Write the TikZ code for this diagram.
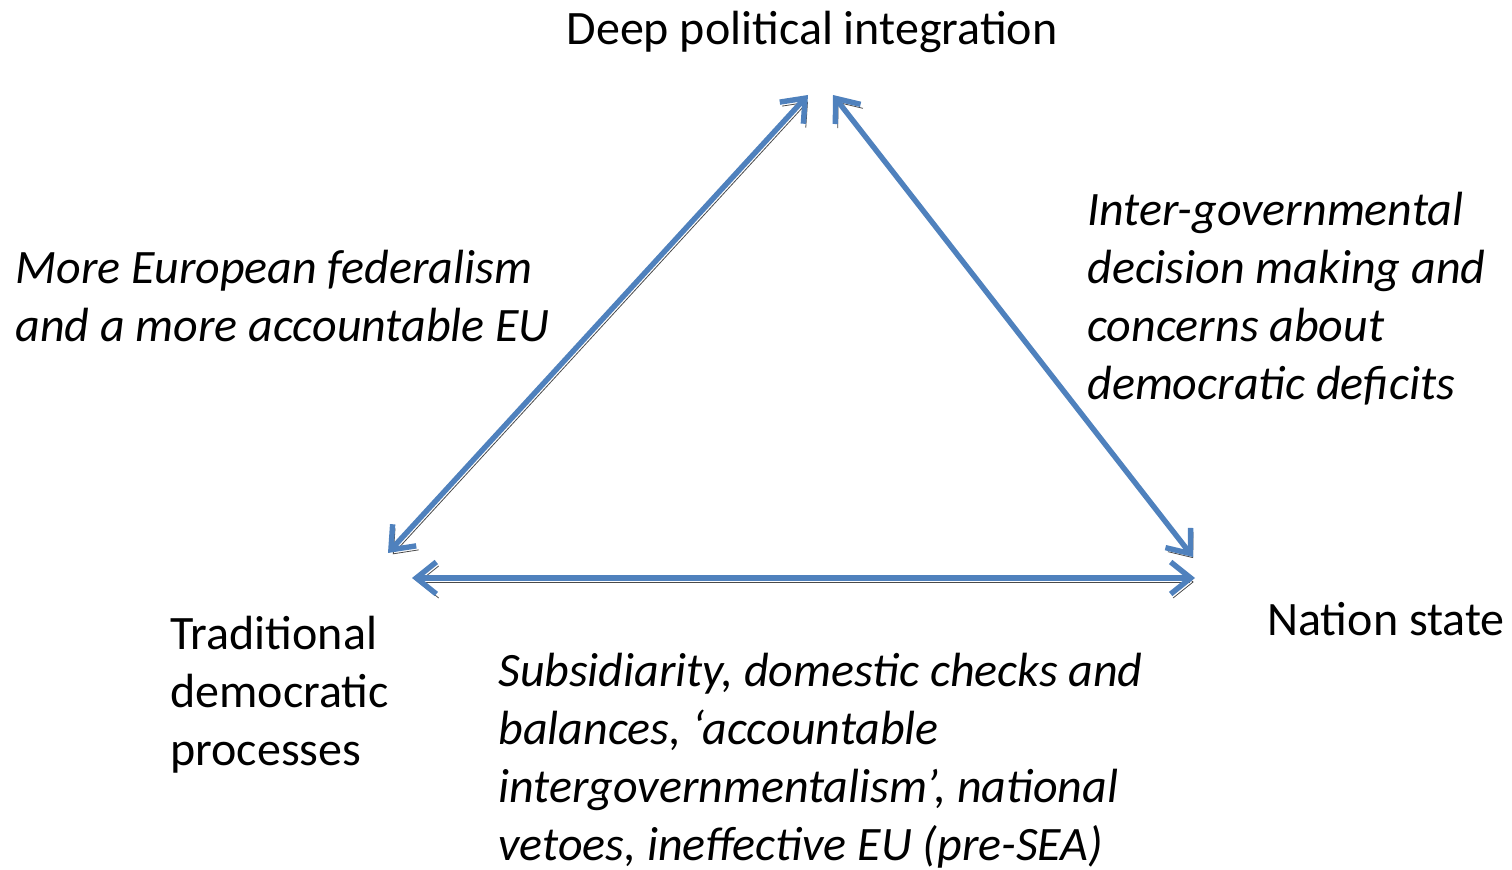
\documentclass[tikz,border=0pt]{standalone}
\usepackage{fontspec}
\setmainfont{Carlito}
\usetikzlibrary{arrows.meta, positioning, calc}
\definecolor{arrowblue}{HTML}{4F81BD}
\definecolor{shadowgray}{HTML}{4A4A4A}

\begin{document}
\begin{tikzpicture}[x=0.5pt, y=-0.5pt,
    lbl/.style={inner sep=0pt, align=left, font=\fontsize{24}{29}\selectfont},
    ilbl/.style={lbl, font=\fontsize{24}{29}\selectfont\itshape},
    link/.style={line width=2.7pt, arrowblue, {Straight Barb[length=10pt, width=16pt]}-{Straight Barb[length=10pt, width=16pt]},
      preaction={draw=shadowgray, transform canvas={shift={(1.2pt,-2pt)}}}}]
  \useasboundingbox (0,0) rectangle (1512,870);

  % Triangle corners
  \coordinate (topL) at (808,95);
  \coordinate (topR) at (833,95);
  \coordinate (leftT) at (388,553);
  \coordinate (leftB) at (412,578);
  \coordinate (rightT) at (1193,557);
  \coordinate (rightB) at (1195,578);

  % Corner labels (base = last line)
  \node[lbl, anchor=base] (deep) at (812,45) {Deep political integration};
  \node[lbl, anchor=base west] (nation) at (1267,636) {Nation state};
  \node[lbl, anchor=base west] (trad) at (170,766) {Traditional\\democratic\\processes};

  % Side labels
  \node[ilbl, anchor=base west] (federal) at (15,342) {More European federalism\\and a more accountable EU};
  \node[ilbl, anchor=base west] (intergov) at (1087,400) {Inter-governmental\\decision making and\\concerns about\\democratic deficits};
  \node[ilbl, anchor=base west] (subsid) at (498,861) {Subsidiarity, domestic checks and\\balances, ‘accountable\\intergovernmentalism’, national\\vetoes, ineffective EU (pre-SEA)};

  % Arrows
  \draw[link] (topL) -- (leftT);
  \draw[link] (topR) -- (rightT);
  \draw[link] (leftB) -- (rightB);
\end{tikzpicture}
\end{document}
